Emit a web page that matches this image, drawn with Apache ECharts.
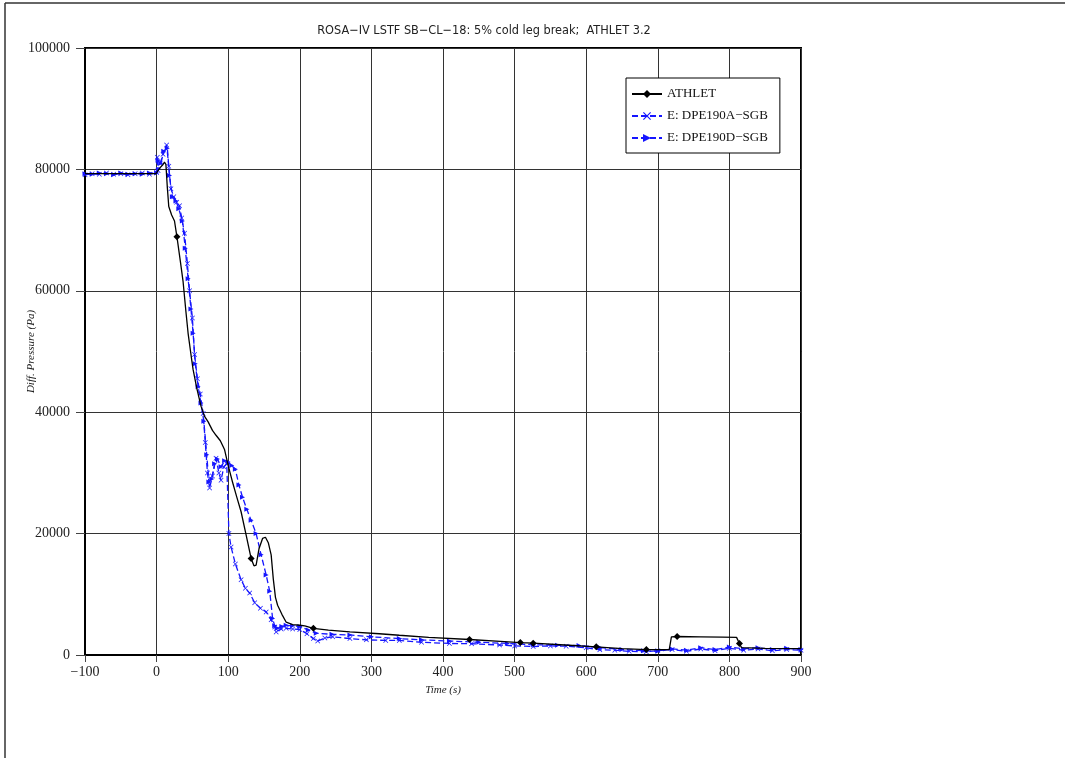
<!DOCTYPE html>
<html>
<head>
<meta charset="utf-8">
<script src="https://cdn.jsdelivr.net/npm/echarts@6/dist/echarts.min.js"></script>
<style>
  html, body { margin: 0; padding: 0; background: #fff; }
  #chart { width: 1065px; height: 758px; }
</style>
</head>
<body>
<div id="chart"></div>
<script>
// ATHLET calculation (black, diamonds)
const athTime = [-100, -50, -1, 0, 5, 9, 11, 13, 15, 17, 21, 25, 28.4, 33, 37, 41, 44, 48, 51, 56, 62, 67, 72, 78, 83, 89, 95, 100, 106, 112, 118, 125, 132, 136, 139, 143, 148, 152, 156, 160, 163, 166, 169, 175, 181, 190, 200, 207, 219, 240, 270, 311, 339, 380, 437, 480, 508, 526, 570, 614, 650, 684, 716, 719, 727, 760, 790, 810, 814, 817, 850, 900];
const athVal = [79300, 79300, 79300, 79400, 80300, 80800, 81200, 80800, 77000, 73900, 72500, 71500, 68900, 65000, 61500, 56500, 53000, 49500, 47000, 44000, 41000, 39300, 38400, 37000, 36200, 35300, 33800, 31200, 28500, 26000, 23600, 19800, 15900, 14700, 14800, 17500, 19200, 19400, 18500, 16500, 12500, 9500, 8200, 6700, 5400, 5000, 4900, 4800, 4400, 4100, 3800, 3500, 3250, 2900, 2550, 2250, 2050, 1950, 1650, 1350, 1050, 900, 880, 3000, 3050, 3000, 2950, 2900, 1900, 1200, 1100, 1050];
const athMarkTimes = [28.4, 132, 219, 437, 508, 526, 614, 684, 727, 814];

// Experiment DPE190A-SGB (blue dashed, x marks)
const expATime = [-100, -90, -80, -70, -60, -50, -40, -30, -20, -10, 0, 1, 2, 5, 9, 14, 17, 20, 24, 28, 32, 35, 39, 43, 46, 50, 53, 57, 61, 65, 68, 71, 74, 78, 83, 87, 90, 94, 98, 101, 104, 110, 118, 124, 130, 137, 145, 153, 160, 165, 167, 174, 181, 190, 200, 210, 219, 225, 235, 246, 270, 293, 320, 339, 370, 409, 440, 479, 500, 526, 550, 572, 600, 619, 640, 660, 684, 700, 720, 740, 760, 780, 800, 820, 840, 860, 880, 900];
const expAVal = [79100, 79300, 79200, 79400, 79200, 79300, 79100, 79300, 79400, 79200, 79500, 82000, 79800, 81000, 82500, 84000, 80500, 76800, 75500, 74600, 74000, 72000, 69500, 64500, 60000, 55500, 49500, 45500, 43000, 39800, 35000, 30000, 27500, 29500, 32400, 30000, 28800, 31000, 31500, 20000, 17800, 15000, 12400, 11000, 10200, 8600, 7700, 7100, 5800, 4600, 3800, 4300, 4400, 4300, 4200, 3500, 2700, 2300, 2800, 3000, 2700, 2500, 2400, 2400, 2100, 1900, 1850, 1650, 1500, 1400, 1500, 1450, 1200, 850, 800, 600, 550, 700, 900, 600, 1000, 700, 1100, 800, 1000, 700, 900, 800];

// Experiment DPE190D-SGB (blue dashed, triangles)
const expDTime = [-100, -90, -80, -70, -60, -50, -40, -30, -20, -10, 0, 2, 6, 10, 15, 18, 22, 27, 31, 36, 40, 44, 48, 51, 54, 58, 62, 66, 70, 73, 77, 81, 85, 90, 95, 100, 105, 110, 115, 120, 126, 132, 139, 146, 153, 158, 162, 165, 169, 175, 181, 190, 200, 212, 223, 245, 270, 300, 339, 370, 409, 450, 490, 526, 560, 590, 620, 650, 680, 700, 720, 740, 760, 780, 800, 820, 840, 860, 880, 900];
const expDVal = [79300, 79200, 79400, 79300, 79100, 79400, 79200, 79300, 79200, 79400, 79400, 81500, 81000, 83000, 83500, 79000, 75500, 74800, 73500, 71500, 67000, 62000, 57000, 53000, 48000, 44200, 41500, 38500, 33000, 28500, 29000, 31500, 32300, 31000, 32000, 31800, 31200, 30600, 28000, 26000, 24000, 22200, 20000, 16500, 13200, 10500, 6000, 4800, 4400, 4700, 4900, 4800, 4700, 4100, 3600, 3400, 3300, 3000, 2700, 2500, 2300, 2100, 1900, 1700, 1600, 1550, 1200, 900, 700, 600, 1000, 800, 1200, 900, 1300, 1000, 1200, 900, 1100, 900];

const xTicks = { min: -100, max: 900, step: 100 };
const yTicks = { min: 0, max: 100000, step: 20000 };

const MINUS = '\u2212';
const serif = 'Liberation Serif';
const blue = '#1515ff';
const xMark = 'path://M0,1L1,0L5,4L9,0L10,1L6,5L10,9L9,10L5,6L1,10L0,9L4,5Z';

const chart = echarts.init(document.getElementById('chart'));

chart.setOption({
  animation: false,
  backgroundColor: '#fff',
  title: {
    text: 'ROSA' + MINUS + 'IV LSTF SB' + MINUS + 'CL' + MINUS + '18: 5% cold leg break;  ATHLET 3.2',
    left: 479,
    textAlign: 'center',
    top: 19,
    textStyle: { fontFamily: '"DejaVu Sans Condensed", "DejaVu Sans", sans-serif', fontSize: 12.6, fontWeight: 'normal', color: '#222' }
  },
  graphic: [
    { type: 'line', shape: { x1: 5, y1: 3, x2: 1065, y2: 3 }, style: { stroke: '#333', lineWidth: 1.5 } },
    { type: 'line', shape: { x1: 5, y1: 3, x2: 5, y2: 758 }, style: { stroke: '#333', lineWidth: 1.5 } }
  ],
  grid: {
    left: 85, right: 264, top: 48, bottom: 103,
    outerBoundsMode: 'none',
    containLabel: false,
    show: true, borderColor: '#000', borderWidth: 2, backgroundColor: 'transparent'
  },
  legend: {
    orient: 'vertical',
    left: 626,
    top: 78,
    backgroundColor: '#fff',
    borderColor: '#000',
    borderWidth: 1,
    padding: [9, 12, 8, 5],
    itemGap: 8,
    itemWidth: 30,
    itemHeight: 10,
    textStyle: { fontFamily: serif, fontSize: 13, color: '#111', lineHeight: 14 },
    data: ['ATHLET', 'E: DPE190A' + MINUS + 'SGB', 'E: DPE190D' + MINUS + 'SGB']
  },
  xAxis: {
    type: 'value',
    min: xTicks.min, max: xTicks.max, interval: xTicks.step,
    name: 'Time (s)',
    nameLocation: 'middle',
    nameGap: 30,
    nameMoveOverlap: false,
    nameTextStyle: { fontFamily: serif, fontStyle: 'italic', fontSize: 11, color: '#222' },
    axisLine: { show: true, onZero: false, lineStyle: { color: '#000', width: 2 } },
    axisTick: { show: true, inside: false, length: 7, lineStyle: { color: '#444' } },
    axisLabel: {
      margin: 10,
      fontFamily: serif, fontSize: 14, color: '#222',
      formatter: v => (v < 0 ? MINUS + Math.abs(v) : String(v))
    },
    splitLine: { show: true, lineStyle: { color: '#333', width: 1 } }
  },
  yAxis: {
    type: 'value',
    min: yTicks.min, max: yTicks.max, interval: yTicks.step,
    name: 'Diff. Pressure (Pa)',
    nameLocation: 'middle',
    nameGap: 48,
    nameMoveOverlap: false,
    nameRotate: 90,
    nameTextStyle: { fontFamily: serif, fontStyle: 'italic', fontSize: 11, color: '#222' },
    axisLine: { show: true, onZero: false, lineStyle: { color: '#000', width: 2 } },
    axisTick: { show: true, inside: false, length: 9, lineStyle: { color: '#444' } },
    axisLabel: { margin: 15, fontFamily: serif, fontSize: 14, color: '#222', formatter: v => String(v) },
    splitLine: { show: true, lineStyle: { color: '#333', width: 1 } }
  },
  series: [
    {
      name: 'ATHLET',
      type: 'line',
      symbol: 'diamond',
      symbolSize: 7,
      z: 3,
      itemStyle: { color: '#000' },
      lineStyle: { color: '#000', width: 1.3 },
      data: athTime.map((t, i) => ({
        value: [t, athVal[i]],
        symbol: athMarkTimes.includes(t) ? 'diamond' : 'none'
      }))
    },
    {
      name: 'E: DPE190A' + MINUS + 'SGB',
      type: 'line',
      symbol: xMark,
      symbolSize: 5,
      z: 2,
      itemStyle: { color: blue },
      lineStyle: { color: blue, width: 1.3, type: [6, 3] },
      data: expATime.map((t, i) => [t, expAVal[i]])
    },
    {
      name: 'E: DPE190D' + MINUS + 'SGB',
      type: 'line',
      symbol: 'triangle',
      symbolRotate: -90,
      symbolSize: 5,
      z: 2,
      itemStyle: { color: blue },
      lineStyle: { color: blue, width: 1.3, type: [6, 3] },
      data: expDTime.map((t, i) => [t, expDVal[i]])
    }
  ]
});
</script>
</body>
</html>
